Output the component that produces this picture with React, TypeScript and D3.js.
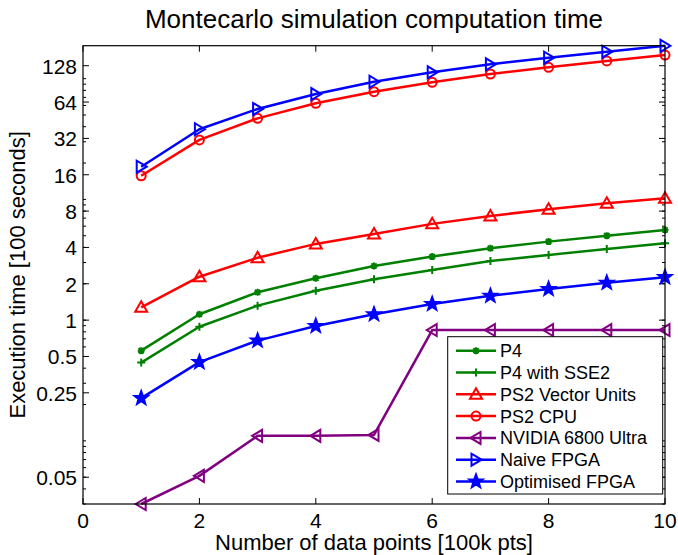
import React, { useRef, useEffect } from "react";
import * as d3 from "d3";

// data (x in 100k pts, y in 100 seconds)
const xValues = [1, 2, 3, 4, 5, 6, 7, 8, 9, 10];
const p4 = [0.559, 1.118, 1.7, 2.22, 2.81, 3.36, 3.94, 4.47, 5.01, 5.59];
const p4Sse2 = [0.445, 0.882, 1.318, 1.754, 2.18, 2.6, 3.09, 3.47, 3.89, 4.33];
const ps2Vector = [1.277, 2.29, 3.29, 4.28, 5.17, 6.27, 7.3, 8.29, 9.3, 10.24];
const ps2Cpu = [15.7, 31.1, 46.9, 62.5, 78.0, 93.3, 109.3, 124.2, 140.1, 156.9];
const nvidia = [0.03, 0.0513, 0.11, 0.11, 0.112, 0.828, 0.828, 0.828, 0.828, 0.828];
const naiveFpga = [18.65, 38.1, 56.1, 74.6, 94.3, 112.9, 131.5, 149.1, 167.2, 187];
const optFpga = [0.2257, 0.449, 0.677, 0.894, 1.118, 1.36, 1.59, 1.81, 2.04, 2.27];

const xTicks = [0, 2, 4, 6, 8, 10];
const yTicks = [0.05, 0.25, 0.5, 1, 2, 4, 8, 16, 32, 64, 128];

const seriesList = [
	{ name: "P4", values: p4, color: "#008000", marker: "asterisk" },
	{ name: "P4 with SSE2", values: p4Sse2, color: "#008000", marker: "plus" },
	{ name: "PS2 Vector Units", values: ps2Vector, color: "#ff0000", marker: "triUp" },
	{ name: "PS2 CPU", values: ps2Cpu, color: "#ff0000", marker: "circle" },
	{ name: "NVIDIA 6800 Ultra", values: nvidia, color: "#800080", marker: "triLeft" },
	{ name: "Naive FPGA", values: naiveFpga, color: "#0000ff", marker: "triRight" },
	{ name: "Optimised FPGA", values: optFpga, color: "#0000ff", marker: "star" },
];

const FONT = "'Liberation Sans', Arial, Helvetica, sans-serif";

const markerPath = (type) => {
	switch (type) {
		case "asterisk":
			return "M-3.5,0L3.5,0M0,-3.5L0,3.5M-2.6,-2.6L2.6,2.6M-2.6,2.6L2.6,-2.6";
		case "plus":
			return "M-4,0L4,0M0,-4L0,4";
		case "triUp":
			return "M0,-6L6,4.5L-6,4.5Z";
		case "triLeft":
			return "M-5.5,0L4.5,-6L4.5,6Z";
		case "triRight":
			return "M5.5,0L-4.5,-6L-4.5,6Z";
		case "circle":
			return d3.arc()({ innerRadius: 0, outerRadius: 4.5, startAngle: 0, endAngle: 2 * Math.PI });
		case "star": {
			const pts = [];
			for (let i = 0; i < 10; i++) {
				const r = i % 2 === 0 ? 7 : 2.9;
				const a = -Math.PI / 2 + (i * Math.PI) / 5;
				pts.push([r * Math.cos(a), r * Math.sin(a)]);
			}
			return "M" + pts.map(p => p.join(",")).join("L") + "Z";
		}
		default:
			return "";
	}
};

const App = () => {
	const svgRef = useRef(null);
	const width = 678;
	const height = 555;
	const plot = { left: 83, right: 665, top: 45.7, bottom: 504 };

	useEffect(() => {
		const svg = d3.select(svgRef.current);
		svg.selectAll("*").remove();

		const xScale = d3.scaleLinear().domain([0, 10]).range([plot.left, plot.right]);
		const yScale = d3.scaleLog().base(2).domain([0.03, 187.5]).range([plot.bottom, plot.top]);

		svg.append("rect")
			.attr("width", width).attr("height", height).attr("fill", "white");

		// minor log ticks (MATLAB style decades)
		const minor = [];
		[0.01, 0.1, 1, 10, 100].forEach(dec => {
			for (let k = 1; k <= 9; k++) {
				const v = dec * k;
				if (v >= 0.03 && v <= 187.5) minor.push(v);
			}
		});

		const axes = svg.append("g").attr("stroke", "black").attr("stroke-width", 1);
		minor.forEach(v => {
			const y = yScale(v);
			axes.append("line").attr("x1", plot.left).attr("x2", plot.left + 3).attr("y1", y).attr("y2", y);
			axes.append("line").attr("x1", plot.right).attr("x2", plot.right - 3).attr("y1", y).attr("y2", y);
		});
		yTicks.forEach(v => {
			const y = yScale(v);
			axes.append("line").attr("x1", plot.left).attr("x2", plot.left + 6).attr("y1", y).attr("y2", y);
			axes.append("line").attr("x1", plot.right).attr("x2", plot.right - 6).attr("y1", y).attr("y2", y);
		});
		xTicks.forEach(v => {
			const x = xScale(v);
			axes.append("line").attr("x1", x).attr("x2", x).attr("y1", plot.bottom).attr("y2", plot.bottom - 6);
			axes.append("line").attr("x1", x).attr("x2", x).attr("y1", plot.top).attr("y2", plot.top + 6);
		});

		// tick labels
		svg.append("g")
			.selectAll("text")
			.data(xTicks)
			.enter()
			.append("text")
			.attr("x", d => xScale(d))
			.attr("y", 528)
			.attr("text-anchor", "middle")
			.attr("font-family", FONT)
			.attr("font-size", 21)
			.text(d => d);

		svg.append("g")
			.selectAll("text")
			.data(yTicks)
			.enter()
			.append("text")
			.attr("x", 77)
			.attr("y", d => yScale(d) + 8)
			.attr("text-anchor", "end")
			.attr("font-family", FONT)
			.attr("font-size", 21)
			.text(d => d);

		// series
		const line = d3.line()
			.x(d => xScale(d[0]))
			.y(d => yScale(d[1]));

		seriesList.forEach(s => {
			const pts = xValues.map((x, i) => [x, s.values[i]]);
			const g = svg.append("g");
			g.append("path")
				.attr("d", line(pts))
				.attr("fill", "none")
				.attr("stroke", s.color)
				.attr("stroke-width", 2.5)
				.attr("stroke-linejoin", "round");
			g.selectAll("path.marker")
				.data(pts)
				.enter()
				.append("path")
				.attr("class", "marker")
				.attr("transform", d => `translate(${xScale(d[0])},${yScale(d[1])})`)
				.attr("d", markerPath(s.marker))
				.attr("fill", s.marker === "star" ? s.color : "none")
				.attr("stroke", s.color)
				.attr("stroke-width", 2)
				.attr("stroke-linejoin", "miter");
		});

		// axes box
		svg.append("rect")
			.attr("x", plot.left)
			.attr("y", plot.top)
			.attr("width", plot.right - plot.left)
			.attr("height", plot.bottom - plot.top)
			.attr("fill", "none")
			.attr("stroke", "black")
			.attr("stroke-width", 1.2);

		// legend
		const legend = svg.append("g");
		legend.append("rect")
			.attr("x", 447.7)
			.attr("y", 336.7)
			.attr("width", 215)
			.attr("height", 157.3)
			.attr("fill", "white")
			.attr("stroke", "black")
			.attr("stroke-width", 1);
		seriesList.forEach((s, i) => {
			const cy = 350.7 + i * 21.8;
			legend.append("line")
				.attr("x1", 456).attr("x2", 496).attr("y1", cy).attr("y2", cy)
				.attr("stroke", s.color).attr("stroke-width", 2.5);
			legend.append("path")
				.attr("transform", `translate(476,${cy})`)
				.attr("d", markerPath(s.marker))
				.attr("fill", s.marker === "star" ? s.color : "none")
				.attr("stroke", s.color)
				.attr("stroke-width", 2);
			legend.append("text")
				.attr("x", 500)
				.attr("y", cy + 6.5)
				.attr("font-family", FONT)
				.attr("font-size", 18)
				.text(s.name);
		});

		// titles
		svg.append("text")
			.attr("x", (plot.left + plot.right) / 2)
			.attr("y", 28)
			.attr("text-anchor", "middle")
			.attr("font-family", FONT)
			.attr("font-size", 26)
			.text("Montecarlo simulation computation time");

		svg.append("text")
			.attr("x", (plot.left + plot.right) / 2)
			.attr("y", 550)
			.attr("text-anchor", "middle")
			.attr("font-family", FONT)
			.attr("font-size", 22)
			.text("Number of data points [100k pts]");

		svg.append("text")
			.attr("transform", `translate(25,${(plot.top + plot.bottom) / 2}) rotate(-90)`)
			.attr("text-anchor", "middle")
			.attr("font-family", FONT)
			.attr("font-size", 22)
			.text("Execution time [100 seconds]");
	}, []);

	return (
		<div>
			<svg ref={svgRef} width={width} height={height} style={{ position: "absolute", left: 0, top: 0 }}></svg>
		</div>
	);
};

export default App;
